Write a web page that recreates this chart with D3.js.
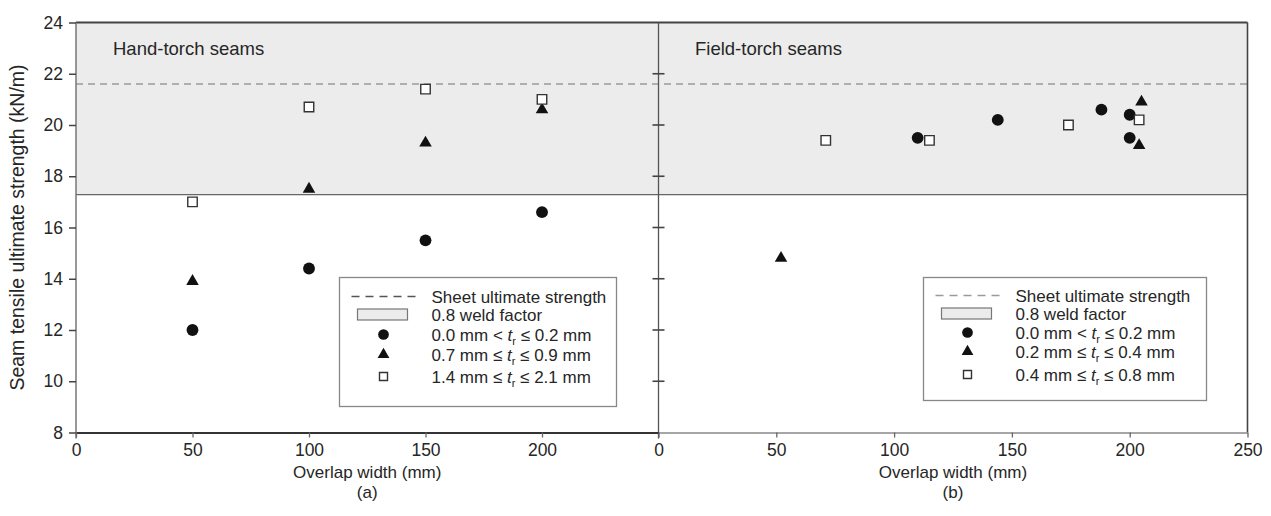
<html>
  <head>
    <meta charset='utf-8'>
    <script src='https://d3js.org/d3.v7.min.js'></script>
    <style>
      body { margin: 0; background: #fff; }
      text { font-family: 'Liberation Sans', Arial, sans-serif; fill: #262626; }
    </style>
  </head>
  <body>
    <div id='chart'></div>
    <script>
        // values
        const xTicks = [0, 50, 100, 150, 200, 250];
        const yTicks = [8, 10, 12, 14, 16, 18, 20, 22, 24];
        const sheetStrength = 21.6;
        const weldFactor = 0.8;

        const handX = [50, 100, 150, 200];
        const handCircle = [12.0, 14.4, 15.5, 16.6];
        const handTriangle = [13.9, 17.5, 19.3, 20.6];
        const handSquare = [17.0, 20.7, 21.4, 21.0];

        const fieldCircleX = [110, 144, 188, 200, 200];
        const fieldCircleY = [19.5, 20.2, 20.6, 20.4, 19.5];
        const fieldTriangleX = [52, 205, 204];
        const fieldTriangleY = [14.8, 20.9, 19.2];
        const fieldSquareX = [71, 115, 174, 204];
        const fieldSquareY = [19.4, 19.4, 20.0, 20.2];

        const handLegend = [['0.0 mm < ', ' ≤ 0.2 mm'], ['0.7 mm ≤ ', ' ≤ 0.9 mm'], ['1.4 mm ≤ ', ' ≤ 2.1 mm']];
        const fieldLegend = [['0.0 mm < ', ' ≤ 0.2 mm'], ['0.2 mm ≤ ', ' ≤ 0.4 mm'], ['0.4 mm ≤ ', ' ≤ 0.8 mm']];

        const W = 1271, H = 516;
        const svg = d3.select('#chart').append('svg').attr('width', W).attr('height', H);

        const y = d3.scaleLinear().domain([8, 24]).range([432.5, 22.5]);
        const xa = d3.scaleLinear().domain([0, 250]).range([76, 658.5]);
        const xb = d3.scaleLinear().domain([0, 250]).range([658.5, 1247.5]);

        const sym = {
          circle: d3.symbol().type(d3.symbolCircle).size(110),
          triangle: d3.symbol().type(d3.symbolTriangle).size(68),
          square: d3.symbol().type(d3.symbolSquare).size(90)
        };

        // shaded weld-factor band
        svg.append('rect')
           .attr('x', xa(0)).attr('y', y(24))
           .attr('width', xb(250) - xa(0))
           .attr('height', y(sheetStrength * weldFactor) - y(24))
           .attr('fill', '#ececec');
        svg.append('line')
           .attr('x1', xa(0)).attr('x2', xb(250))
           .attr('y1', y(sheetStrength * weldFactor)).attr('y2', y(sheetStrength * weldFactor))
           .attr('stroke', '#666').attr('stroke-width', 1.2);
        svg.append('line')
           .attr('x1', xa(0)).attr('x2', xb(250))
           .attr('y1', y(24)).attr('y2', y(24))
           .attr('stroke', '#444').attr('stroke-width', 1.8);
        svg.append('line')
           .attr('x1', xa(0)).attr('x2', xb(250))
           .attr('y1', y(sheetStrength)).attr('y2', y(sheetStrength))
           .attr('stroke', '#9a9a9a').attr('stroke-width', 1.5)
           .attr('stroke-dasharray', '7,5');

        // left y axis
        const yAxis = svg.append('g').attr('transform', `translate(${xa(0)},0)`)
           .call(d3.axisLeft(y).tickValues(yTicks).tickSizeInner(7).tickSizeOuter(0).tickPadding(6));
        yAxis.select('.domain').attr('stroke', '#777').attr('stroke-width', 1.5)
             .attr('d', `M0,${y(24)}V${y(8) + 6}`);
        yAxis.selectAll('.tick line').attr('stroke', '#444').attr('stroke-width', 1.5);
        yAxis.selectAll('.tick text').style('font-size', '17.5px').attr('fill', '#262626');

        // middle shared axis with crossing ticks
        const mid = svg.append('g').attr('transform', `translate(${xb(0)},0)`);
        mid.append('line').attr('y1', y(24)).attr('y2', y(8) + 6)
           .attr('stroke', '#555').attr('stroke-width', 1.3);
        mid.selectAll('.t').data(yTicks.slice(1, -1)).join('line')
           .attr('x1', -6).attr('x2', 6)
           .attr('y1', d => y(d)).attr('y2', d => y(d))
           .attr('stroke', '#444').attr('stroke-width', 1.6);

        // right border
        svg.append('line').attr('x1', xb(250)).attr('x2', xb(250))
           .attr('y1', y(24)).attr('y2', y(8))
           .attr('stroke', '#444').attr('stroke-width', 1.6);

        // x axes
        function xAxis(scale, color, width) {
          const g = svg.append('g').attr('transform', `translate(0,${y(8)})`)
             .call(d3.axisBottom(scale).tickValues(xTicks).tickSizeInner(5).tickSizeOuter(0).tickPadding(6));
          g.select('.domain').attr('stroke', color).attr('stroke-width', width);
          g.selectAll('.tick line').attr('stroke', '#666').attr('stroke-width', 1.3);
          g.selectAll('.tick text').style('font-size', '17.5px').attr('fill', '#262626');
          return g;
        }
        const axA = xAxis(xa, '#333', 2);
        axA.selectAll('.tick').filter(d => d === 250).remove();
        const axB = xAxis(xb, '#888', 1.5);

        // labels
        svg.append('text').attr('transform', `translate(24,${(y(8) + y(24)) / 2}) rotate(-90)`)
           .attr('text-anchor', 'middle').style('font-size', '19.5px')
           .text('Seam tensile ultimate strength (kN/m)');
        [[xa, '(a)'], [xb, '(b)']].forEach(([s, tag]) => {
          const cx = (s.range()[0] + s.range()[1]) / 2;
          svg.append('text').attr('x', cx).attr('y', 478).attr('text-anchor', 'middle')
             .style('font-size', '17px').text('Overlap width (mm)');
          svg.append('text').attr('x', cx).attr('y', 498).attr('text-anchor', 'middle')
             .style('font-size', '17px').text(tag);
        });
        svg.append('text').attr('x', 113).attr('y', 55).style('font-size', '18.5px').text('Hand-torch seams');
        svg.append('text').attr('x', 695).attr('y', 55).style('font-size', '18.5px').text('Field-torch seams');

        // points
        function drawPoints(xs, ys, sx, kind) {
          svg.append('g').selectAll('path').data(xs).join('path')
             .attr('transform', (d, i) => `translate(${sx(d)},${y(ys[i])})`)
             .attr('d', sym[kind]())
             .attr('fill', kind === 'square' ? '#fff' : '#111')
             .attr('stroke', kind === 'square' ? '#333' : 'none')
             .attr('stroke-width', 1.4);
        }
        drawPoints(handX, handCircle, xa, 'circle');
        drawPoints(handX, handTriangle, xa, 'triangle');
        drawPoints(handX, handSquare, xa, 'square');
        drawPoints(fieldCircleX, fieldCircleY, xb, 'circle');
        drawPoints(fieldTriangleX, fieldTriangleY, xb, 'triangle');
        drawPoints(fieldSquareX, fieldSquareY, xb, 'square');

        // legends
        function legend(x0, y0, w, h, rows, dashColor, rowY) {
          const g = svg.append('g').attr('transform', `translate(${x0},${y0})`);
          g.append('rect').attr('width', w).attr('height', h)
           .attr('fill', '#fff').attr('stroke', '#888').attr('stroke-width', 1.3);
          const mx = 44, tx = 92;
          g.append('line').attr('x1', 12).attr('x2', 77).attr('y1', rowY[0]).attr('y2', rowY[0])
           .attr('stroke', dashColor).attr('stroke-width', 1.6).attr('stroke-dasharray', '8,6');
          g.append('rect').attr('x', 18).attr('y', rowY[1] - 5.5).attr('width', 50).attr('height', 11)
           .attr('fill', '#ececec').attr('stroke', '#777').attr('stroke-width', 1.2);
          const labels = ['Sheet ultimate strength', '0.8 weld factor'];
          labels.forEach((t, i) => {
            g.append('text').attr('x', tx).attr('y', rowY[i] + 6).style('font-size', '17px').text(t);
          });
          ['circle', 'triangle', 'square'].forEach((k, i) => {
            const yy = rowY[i + 2];
            g.append('path').attr('transform', `translate(${mx},${yy})`)
             .attr('d', d3.symbol().type(k === 'circle' ? d3.symbolCircle : k === 'triangle' ? d3.symbolTriangle : d3.symbolSquare)
                   .size(k === 'circle' ? 90 : k === 'triangle' ? 60 : 64)())
             .attr('fill', k === 'square' ? '#fff' : '#111')
             .attr('stroke', k === 'square' ? '#333' : 'none').attr('stroke-width', 1.4);
            const t = g.append('text').attr('x', tx).attr('y', yy + 6).style('font-size', '17px');
            t.append('tspan').text(rows[i][0]);
            t.append('tspan').style('font-style', 'italic').text('t');
            t.append('tspan').attr('dy', 4).style('font-size', '11px').text('r');
            t.append('tspan').attr('dy', -4).text(rows[i][1]);
          });
        }
        legend(339.5, 277.5, 277, 129, handLegend, '#555', [19, 37, 57, 77, 99]);
        legend(923.5, 277.5, 283, 123, fieldLegend, '#9a9a9a', [18, 36, 55, 74, 97]);
    </script>
  </body>
</html>
